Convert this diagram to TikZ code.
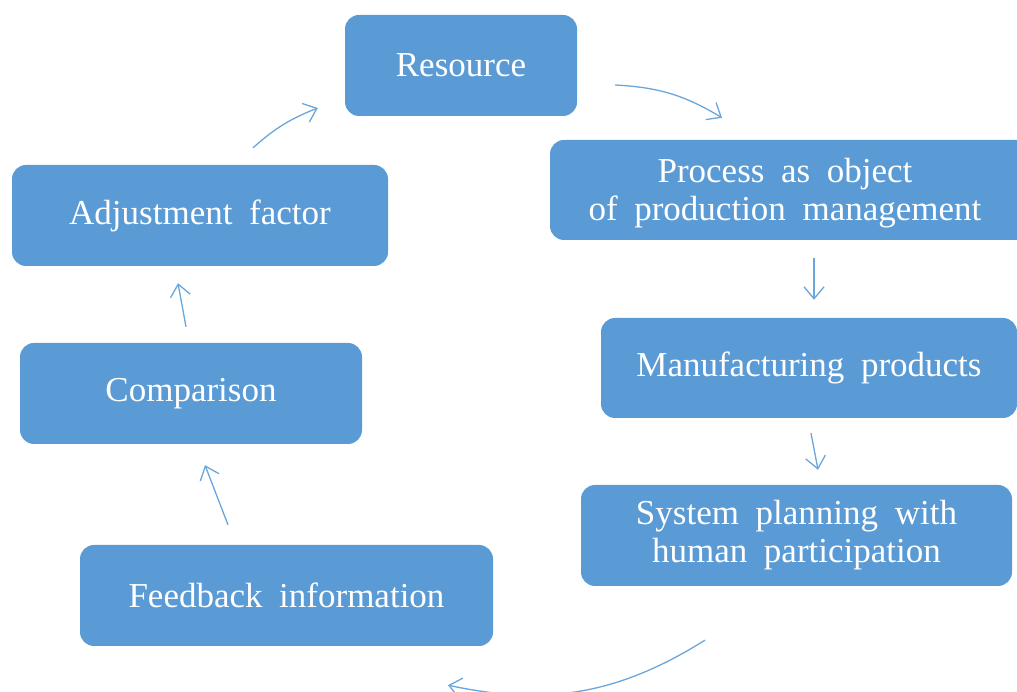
\documentclass[tikz,border=0pt]{standalone}
\usepackage{fontspec}
\setmainfont{Liberation Serif}[WordSpace=1.9]
\usepackage{tikz}
\usetikzlibrary{calc}
\usetikzlibrary{arrows.meta}
\definecolor{boxblue}{HTML}{5B9BD5}
\definecolor{arrblue}{HTML}{6AA6DC}
\begin{document}
\begin{tikzpicture}[x=1pt,y=1pt,
  blockbox/.style={fill=boxblue,rounded corners=14pt,align=center,text=white,inner sep=0pt,
    font=\fontsize{35}{38}\selectfont},
  flowarr/.style={draw=arrblue,line width=1.3pt,-{Straight Barb[length=12pt,width=20pt]}}]
\useasboundingbox (0,0) rectangle (1017,692);
\node[blockbox,minimum width=232,minimum height=101] (res) at (461,626.5) {Resource};
\node[blockbox,minimum width=490,minimum height=100] (proc) at (795,502) {};
\node[white,font=\fontsize{35}{38}\selectfont,align=center] (proctext) at (785,499) {Process as object\\of production management};
\node[blockbox,minimum width=416,minimum height=100] (manu) at (809,324) {Manufacturing products};
\node[blockbox,minimum width=431,minimum height=101] (sys) at (796.5,156.5) {System planning with\\human participation};
\node[blockbox,minimum width=413,minimum height=101] (feed) at (286.5,96.5) {Feedback information};
\node[blockbox,minimum width=342,minimum height=101] (comp) at (191,298.5) {Comparison};
\node[blockbox,minimum width=376,minimum height=101] (adj) at (200,476.5) {Adjustment factor};
\draw[flowarr] ($(res.east)+(38,-19.5)$) to[bend left=14] ($(proc.north)+(-73,22)$);
\draw[flowarr] ($(proc.south)+(19,-18)$) -- ($(manu.north)+(5,18)$);
\draw[flowarr] ($(manu.south)+(2,-15)$) -- ($(sys.north)+(21.5,15)$);
\draw[flowarr] ($(sys.south)+(-91.5,-54)$) to[bend left=22] ($(feed.south)+(161.5,-39)$);
\draw[flowarr] ($(feed.north)+(-58.5,20)$) -- ($(comp.south)+(14,-21)$);
\draw[flowarr] ($(comp.north)+(-5,16)$) -- ($(adj.south)+(-22,-17)$);
\draw[flowarr] ($(adj.north)+(53,17)$) to[bend left=10] ($(res.west)+(-27,-42.5)$);
\end{tikzpicture}
\end{document}
